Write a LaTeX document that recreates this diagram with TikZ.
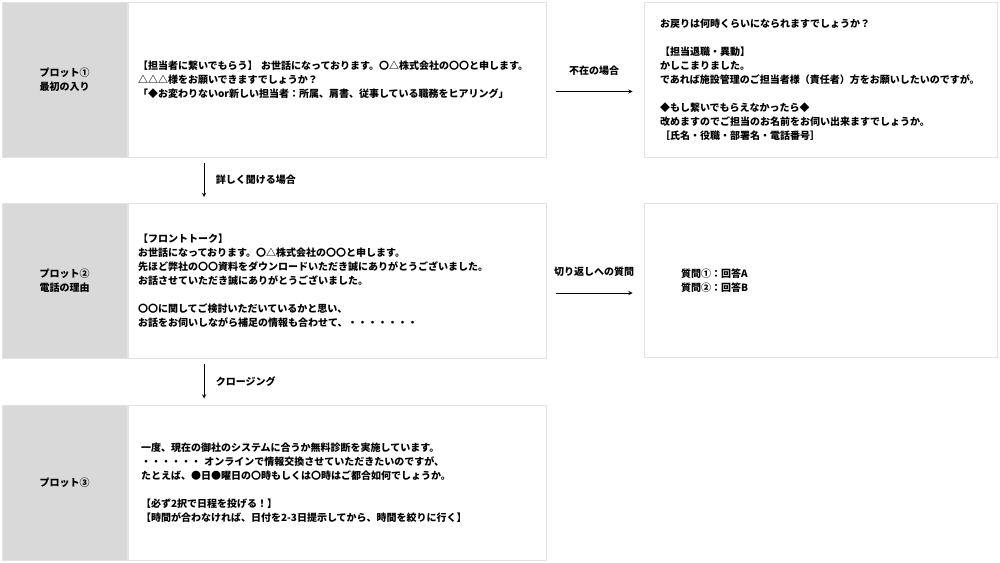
\documentclass[tikz,border=0pt]{standalone}
\usepackage{fontspec}
\setmainfont{Noto Sans CJK JP}
\usetikzlibrary{shapes.geometric, arrows}
\definecolor{plotgray}{HTML}{D9D9D9}
\definecolor{framegray}{HTML}{E3E3E3}
\tikzstyle{plotlabel} = [rectangle, minimum width=125pt, minimum height=155pt, inner sep=0pt, text centered, align=center, draw=framegray, line width=1pt, fill=plotgray]
\tikzstyle{talkbox} = [rectangle, minimum width=418pt, minimum height=155pt, text width=398pt, inner xsep=10pt, align=left, draw=framegray, line width=1pt, fill=white]
\tikzstyle{sidebox} = [rectangle, minimum width=353pt, minimum height=155pt, align=left, draw=framegray, line width=1pt, fill=white]
\tikzstyle{arrow} = [line width=0.9pt,->,>=stealth]
\begin{document}
\begin{tikzpicture}[x=1pt, y=-1pt, node distance=201.5pt, font=\bfseries\fontsize{10}{14}\selectfont]
\useasboundingbox (0,0) rectangle (1000,562);
\node (plot1) [plotlabel] at (64.5,79.5) {プロット①\\最初の入り};
\node (talk1) [talkbox, anchor=west] at (plot1.east) {【担当者に繋いでもらう】 お世話になっております。〇△株式会社の〇〇と申します。\\△△△様をお願いできますでしょうか？\\「◆お変わりないor新しい担当者：所属、肩書、従事している職務をヒアリング」};
\node (plot2) [plotlabel, below of=plot1] {プロット②\\電話の理由};
\node (talk2) [talkbox, anchor=west] at (plot2.east) {【フロントトーク】\\お世話になっております。〇△株式会社の〇〇と申します。\\先ほど弊社の〇〇資料をダウンロードいただき誠にありがとうございました。\\お話させていただき誠にありがとうございました。\\[14pt]〇〇に関してご検討いただいているかと思い、\\お話をお伺いしながら補足の情報も合わせて、・・・・・・・};
\node (plot3) [plotlabel, below of=plot2] {プロット③};
\node (talk3) [talkbox, anchor=west, text width=392pt, inner xsep=13pt] at (plot3.east) {一度、現在の御社のシステムに合うか無料診断を実施しています。\\・・・・・・ オンラインで情報交換させていただきたいのですが、\\たとえば、●日●曜日の〇時もしくは〇時はご都合如何でしょうか。\\[14pt]【必ず2択で日程を投げる！】\\【時間が合わなければ、日付を2-3日提示してから、時間を絞りに行く】};

\node (absent) [sidebox, text width=321pt, inner xsep=16pt] at (820.5,79.5) {お戻りは何時くらいになられますでしょうか？\\[14pt]【担当退職・異動】\\ かしこまりました。\\であれば施設管理のご担当者様（責任者）方をお願いしたいのですが。\\[14pt]◆もし繋いでもらえなかったら◆\\改めますのでご担当のお名前をお伺い出来ますでしょうか。\\［氏名・役職・部署名・電話番号］};
\node (answer) [sidebox, text width=279pt, inner xsep=37pt, minimum height=154pt, below of=absent, yshift=0.5pt] {質問①：回答A\\質問②：回答B};

\draw [arrow] ([xshift=76.5pt,yshift=-5pt]talk1.south west) -- node[midway, right=8pt] {詳しく聞ける場合} ([xshift=76.5pt,yshift=6pt]talk2.north west);
\draw [arrow] ([xshift=76.5pt,yshift=-5pt]talk2.south west) -- node[midway, right=8pt] {クロージング} ([xshift=76.5pt,yshift=6pt]talk3.north west);
\draw [arrow] ([xshift=9pt,yshift=-12pt]talk1.east) -- node[midway, yshift=21pt] {不在の場合} ([xshift=-11pt,yshift=-12pt]absent.west);
\draw [arrow] ([xshift=9pt,yshift=-12pt]talk2.east) -- node[midway, yshift=21pt] {切り返しへの質問} ([xshift=-11pt,yshift=-12.5pt]answer.west);
\end{tikzpicture}
\end{document}
